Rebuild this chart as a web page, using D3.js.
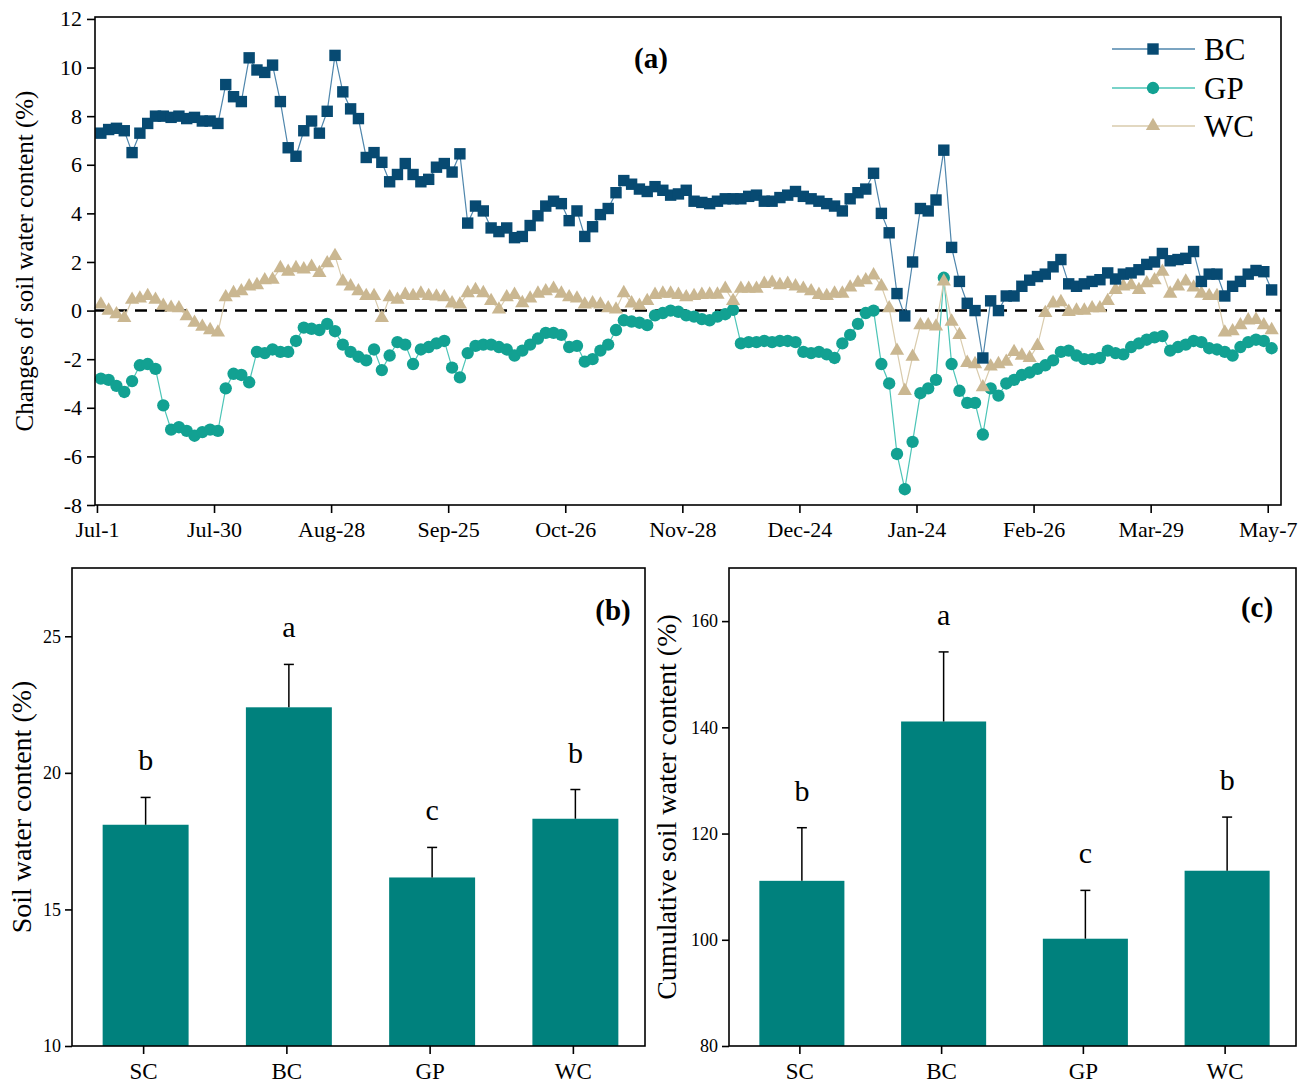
<!DOCTYPE html>
<html>
<head>
<meta charset="utf-8">
<script src="https://cdn.jsdelivr.net/npm/d3@7"></script>
<style>
body { margin: 0; background: #fff; }
text { font-family: "Liberation Serif", "Times New Roman", serif; fill: #000; }
</style>
</head>
<body>
<svg id="fig" width="1305" height="1085"></svg>
<script>
// ---- panel (a) data : one value every 2 sampling steps ----
var dateLabels = ["Jul-1","Jul-30","Aug-28","Sep-25","Oct-26","Nov-28","Dec-24","Jan-24","Feb-26","Mar-29","May-7"];
var bcVals = [7.3,7.45,7.5,7.4,6.5,7.3,7.7,8.0,8.0,7.95,
  8.0,7.9,7.95,7.8,7.8,7.7,9.3,8.8,8.6,10.4,
  9.9,9.8,10.1,8.6,6.7,6.35,7.4,7.8,7.3,8.2,
  10.5,9.0,8.3,7.9,6.3,6.5,6.1,5.3,5.6,6.05,
  5.6,5.3,5.4,5.9,6.05,5.7,6.45,3.6,4.3,4.1,
  3.4,3.25,3.4,3.0,3.05,3.5,3.9,4.3,4.5,4.4,
  3.7,4.1,3.05,3.45,3.95,4.2,4.85,5.35,5.2,5.0,
  4.9,5.1,4.95,4.75,4.8,4.95,4.5,4.45,4.4,4.5,
  4.6,4.6,4.6,4.7,4.75,4.5,4.5,4.65,4.75,4.9,
  4.7,4.6,4.5,4.4,4.3,4.1,4.6,4.85,5.0,5.65,
  4.0,3.2,0.7,-0.22,2.0,4.2,4.1,4.55,6.6,2.6,
  1.2,0.3,0.0,-1.95,0.4,0.0,0.6,0.6,1.0,1.25,
  1.4,1.5,1.8,2.1,1.1,1.0,1.1,1.2,1.27,1.55,
  1.3,1.5,1.55,1.68,1.9,2.0,2.35,2.05,2.1,2.15,
  2.43,1.2,1.5,1.5,0.6,1.0,1.2,1.5,1.65,1.6,
  0.85];
var gpVals = [-2.8,-2.85,-3.1,-3.35,-2.9,-2.25,-2.2,-2.4,-3.9,-4.9,
  -4.8,-4.95,-5.15,-5.0,-4.9,-4.95,-3.2,-2.6,-2.65,-2.95,
  -1.7,-1.75,-1.6,-1.7,-1.7,-1.25,-0.7,-0.75,-0.8,-0.55,
  -0.85,-1.4,-1.7,-1.9,-2.05,-1.6,-2.45,-1.85,-1.3,-1.4,
  -2.2,-1.6,-1.5,-1.35,-1.25,-2.35,-2.75,-1.75,-1.45,-1.4,
  -1.4,-1.5,-1.6,-1.85,-1.65,-1.4,-1.15,-0.92,-0.92,-1.0,
  -1.5,-1.45,-2.1,-2.0,-1.65,-1.4,-0.8,-0.4,-0.45,-0.5,
  -0.6,-0.2,-0.1,0.0,-0.05,-0.2,-0.25,-0.35,-0.4,-0.25,
  -0.15,0.03,-1.35,-1.3,-1.3,-1.25,-1.3,-1.25,-1.25,-1.3,
  -1.7,-1.75,-1.7,-1.8,-1.95,-1.35,-1.0,-0.55,-0.1,0.0,
  -2.2,-3.0,-5.9,-7.35,-5.4,-3.4,-3.2,-2.85,1.35,-2.2,
  -3.3,-3.8,-3.8,-5.1,-3.2,-3.5,-3.0,-2.85,-2.65,-2.55,
  -2.4,-2.25,-2.05,-1.7,-1.65,-1.85,-2.0,-2.0,-1.95,-1.65,
  -1.75,-1.8,-1.5,-1.35,-1.2,-1.1,-1.05,-1.65,-1.5,-1.4,
  -1.25,-1.3,-1.55,-1.6,-1.7,-1.85,-1.5,-1.3,-1.2,-1.25,
  -1.55];
var wcVals = [0.25,0.0,-0.15,-0.3,0.45,0.5,0.6,0.45,0.2,0.12,
  0.1,-0.23,-0.5,-0.66,-0.8,-0.9,0.55,0.72,0.8,1.0,
  1.05,1.25,1.27,1.75,1.6,1.75,1.7,1.8,1.55,1.95,
  2.25,1.2,1.0,0.8,0.6,0.6,-0.3,0.55,0.45,0.65,
  0.6,0.7,0.6,0.58,0.55,0.3,0.25,0.72,0.85,0.72,
  0.4,0.05,0.55,0.65,0.31,0.5,0.7,0.8,0.9,0.7,
  0.55,0.5,0.25,0.3,0.25,0.1,0.05,0.72,0.3,0.2,
  0.4,0.65,0.7,0.7,0.65,0.55,0.6,0.65,0.66,0.66,
  0.9,0.4,0.9,0.9,0.9,1.1,1.15,1.05,1.1,1.0,
  0.9,0.8,0.65,0.6,0.7,0.7,0.95,1.15,1.25,1.45,
  1.0,0.1,-1.65,-3.3,-1.9,-0.6,-0.6,-0.65,1.2,-0.45,
  -1.0,-2.15,-2.2,-3.15,-2.3,-2.2,-2.1,-1.7,-1.85,-1.95,
  -1.45,-0.1,0.3,0.35,-0.05,0.0,0.0,0.1,0.1,0.4,
  0.85,1.0,1.05,0.85,1.13,1.25,1.6,0.7,1.0,1.2,
  0.95,0.7,0.6,0.6,-0.9,-0.85,-0.6,-0.4,-0.38,-0.6,
  -0.8];

// ---- panels (b) and (c) ----
var treatments = ["SC","BC","GP","WC"];
var swcMean = [18.1,22.4,16.17,18.32];
var swcErr = [1.0,1.57,1.1,1.07];
var swcLetters = ["b","a","c","b"];
var cumMean = [111.1,141.1,100.2,113.0];
var cumErr = [10.0,13.1,9.1,10.1];
var cumLetters = ["b","a","c","b"];

var svg = d3.select("#fig");
var plainNum = function(d) { return String(d); };   // hyphen minus like the original

// ================= panel (a) =================
var A = {l: 95, r: 1281, t: 17, b: 505};
var xA = d3.scaleLinear().domain([-0.5, 303.4]).range([A.l, A.r]);
var yA = d3.scaleLinear().domain([-8, 12.08]).range([A.b, A.t]);
var gA = svg.append("g");

var yAxisA = gA.append("g").attr("transform", "translate(" + A.l + ",0)")
  .call(d3.axisLeft(yA).tickValues(d3.range(-8, 13, 2)).tickSize(8).tickPadding(5).tickFormat(plainNum));
var xAxisA = gA.append("g").attr("transform", "translate(0," + A.b + ")")
  .call(d3.axisBottom(xA).tickValues(d3.range(0, 301, 30)).tickSize(8).tickPadding(8)
    .tickFormat(function(d, i) { return dateLabels[i]; }));
[yAxisA, xAxisA].forEach(function(ax) {
  ax.select(".domain").remove();
  ax.selectAll("line").attr("stroke", "#000").attr("stroke-width", 1.6);
  ax.selectAll("text").style("font-size", "22px").attr("fill", "#000");
});

gA.append("line").attr("x1", A.l).attr("x2", A.r).attr("y1", yA(0)).attr("y2", yA(0))
  .attr("stroke", "#000").attr("stroke-width", 2.5).attr("stroke-dasharray", "12,8");

var series = [
  {name: "GP", vals: gpVals, mk: "#12a192", ln: "#4cc5b7", sym: d3.symbolCircle, size: 120},
  {name: "WC", vals: wcVals, mk: "#cab791", ln: "#d9cbac", sym: d3.symbolTriangle, size: 88},
  {name: "BC", vals: bcVals, mk: "#074a72", ln: "#4f86ac", sym: d3.symbolSquare, size: 130}
];
var idx = function(i) { return 1 + 2 * i; };

series.forEach(function(s) {
  var pts = s.vals.map(function(v, i) { return [xA(idx(i)), yA(v)]; });
  gA.append("path").attr("d", d3.line()(pts)).attr("fill", "none")
    .attr("stroke", s.ln).attr("stroke-width", 1.2);
  gA.selectAll(null).data(pts).enter().append("path")
    .attr("d", d3.symbol().type(s.sym).size(s.size))
    .attr("transform", function(p) { return "translate(" + p[0] + "," + p[1] + ")"; })
    .attr("fill", s.mk);
});

gA.append("rect").attr("x", A.l).attr("y", A.t).attr("width", A.r - A.l).attr("height", A.b - A.t)
  .attr("fill", "none").attr("stroke", "#000").attr("stroke-width", 1.6);

gA.append("text").attr("transform", "translate(33," + ((A.t + A.b) / 2) + ") rotate(-90)")
  .attr("text-anchor", "middle").style("font-size", "25px").text("Changes of soil water content (%)");
gA.append("text").attr("x", 651).attr("y", 68).attr("text-anchor", "middle")
  .style("font-size", "29px").style("font-weight", "bold").text("(a)");

// legend
var legY = [49, 88, 126];
var legOrder = [series[2], series[0], series[1]];
legOrder.forEach(function(s, i) {
  var g = gA.append("g").attr("transform", "translate(0," + legY[i] + ")");
  g.append("line").attr("x1", 1112).attr("x2", 1195).attr("stroke", s.ln).attr("stroke-width", 1.5);
  g.append("path").attr("d", d3.symbol().type(s.sym).size(s.size)).attr("transform", "translate(1153,0)").attr("fill", s.mk);
  g.append("text").attr("x", 1204).attr("y", 11).style("font-size", "31px").text(s.name);
});

// ================= panels (b), (c) =================
function barPanel(o) {
  var g = svg.append("g");
  var x = d3.scaleBand().domain(treatments).range([o.l, o.r]).paddingInner(0.4).paddingOuter(0.2);
  var y = d3.scaleLinear().domain(o.domain).range([o.b, o.t]);

  var ya = g.append("g").attr("transform", "translate(" + o.l + ",0)")
    .call(d3.axisLeft(y).tickValues(o.ticks).tickSize(7).tickPadding(4).tickFormat(plainNum));
  var xa = g.append("g").attr("transform", "translate(0," + o.b + ")")
    .call(d3.axisBottom(x).tickSize(8).tickPadding(9));
  ya.selectAll("text").style("font-size", "18px");
  xa.selectAll("text").style("font-size", "23px");
  [ya, xa].forEach(function(ax) {
    ax.select(".domain").remove();
    ax.selectAll("line").attr("stroke", "#000").attr("stroke-width", 1.6);
    ax.selectAll("text").attr("fill", "#000");
  });

  g.selectAll(null).data(treatments).enter().append("rect")
    .attr("x", function(d) { return x(d) + 2; })
    .attr("width", x.bandwidth())
    .attr("y", function(d, i) { return y(o.mean[i]); })
    .attr("height", function(d, i) { return o.b - y(o.mean[i]); })
    .attr("fill", "#00817d");

  treatments.forEach(function(d, i) {
    var cx = x(d) + 2 + x.bandwidth() / 2;
    var top = y(o.mean[i] + o.err[i]);
    g.append("line").attr("x1", cx).attr("x2", cx).attr("y1", y(o.mean[i])).attr("y2", top)
      .attr("stroke", "#000").attr("stroke-width", 1.5);
    g.append("line").attr("x1", cx - 5).attr("x2", cx + 5).attr("y1", top).attr("y2", top)
      .attr("stroke", "#000").attr("stroke-width", 1.5);
    g.append("text").attr("x", cx).attr("y", top - 27).attr("text-anchor", "middle")
      .style("font-size", "30px").text(o.letters[i]);
  });

  g.append("rect").attr("x", o.l).attr("y", o.t).attr("width", o.r - o.l).attr("height", o.b - o.t)
    .attr("fill", "none").attr("stroke", "#000").attr("stroke-width", 1.6);
  g.append("text").attr("transform", "translate(" + o.labelX + "," + ((o.t + o.b) / 2) + ") rotate(-90)")
    .attr("text-anchor", "middle").style("font-size", "28px").text(o.label);
  g.append("text").attr("x", o.tagX).attr("y", o.tagY).attr("text-anchor", "middle")
    .style("font-size", "29px").style("font-weight", "bold").text(o.tag);
}

barPanel({l: 72, r: 645, t: 568, b: 1046, domain: [10, 27.5], ticks: [10, 15, 20, 25],
  mean: swcMean, err: swcErr, letters: swcLetters,
  label: "Soil water content (%)", labelX: 31, tag: "(b)", tagX: 613, tagY: 620});
barPanel({l: 729, r: 1296, t: 568, b: 1046, domain: [80, 170], ticks: [80, 100, 120, 140, 160],
  mean: cumMean, err: cumErr, letters: cumLetters,
  label: "Cumulative soil water content (%)", labelX: 676, tag: "(c)", tagX: 1257, tagY: 617});
</script>
</body>
</html>
